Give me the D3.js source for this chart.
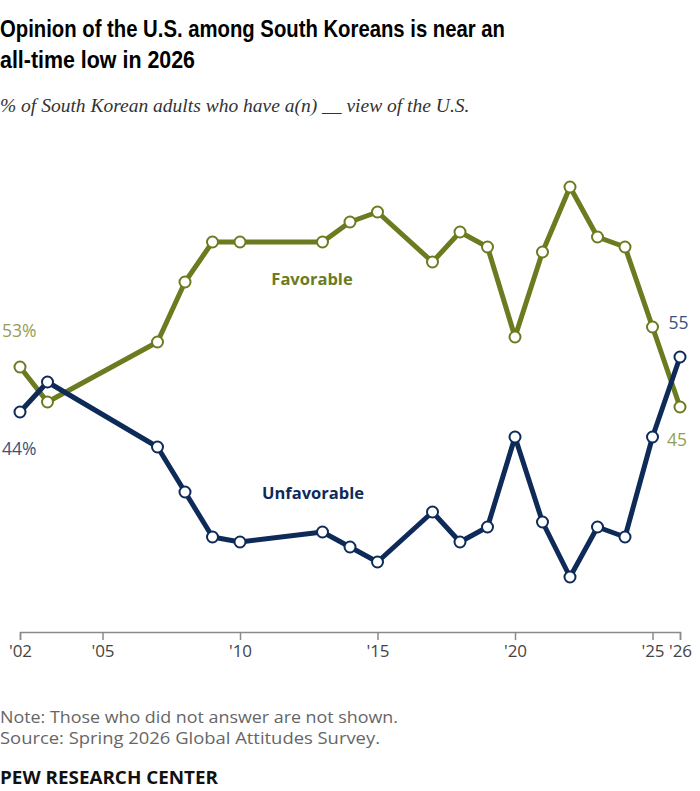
<!DOCTYPE html>
<html lang="en">
<head>
<meta charset="UTF-8">
<title>South Korean views of the U.S.</title>
<script src="https://cdn.jsdelivr.net/npm/d3@7/dist/d3.min.js"></script>
<style>
  body { margin: 0; background: #fff; }
  svg { display: block; }
</style>
</head>
<body>
<div id="chart"></div>
<script>
// survey years and shares (%)
const years = [2002, 2003, 2007, 2008, 2009, 2010, 2013, 2014, 2015, 2017, 2018, 2019, 2020, 2021, 2022, 2023, 2024, 2025, 2026];
const favorable = [53, 46, 58, 70, 78, 78, 78, 82, 84, 74, 80, 77, 59, 76, 89, 79, 77, 61, 45];
const unfavorable = [44, 50, 37, 28, 19, 18, 20, 17, 14, 24, 18, 21, 39, 22, 11, 21, 19, 39, 55];
const tickYears = [2002, 2005, 2010, 2015, 2020, 2025, 2026];
const tickLabels = ["'02", "'05", "'10", "'15", "'20", "'25", "'26"];

const width = 700, height = 791;
const favColor = '#6b7b1f', favLight = '#949e55';
const unfColor = '#0e2a58', unfLight = '#3a5279';
const sans = '"Open Sans", "Liberation Sans", Arial, sans-serif';

const svg = d3.select('#chart').append('svg')
  .attr('width', width)
  .attr('height', height);

// title block (condensed look squeezed to the original widths)
const title = svg.append('text')
  .attr('font-family', '"Liberation Sans", Arial, sans-serif')
  .attr('font-weight', 'bold')
  .attr('font-size', 24)
  .attr('fill', '#000');
title.append('tspan').attr('x', 0).attr('y', 37)
  .attr('textLength', 505).attr('lengthAdjust', 'spacingAndGlyphs')
  .text('Opinion of the U.S. among South Koreans is near an');
title.append('tspan').attr('x', 0).attr('y', 68)
  .attr('textLength', 195).attr('lengthAdjust', 'spacingAndGlyphs')
  .text('all-time low in 2026');

svg.append('text')
  .attr('x', 0).attr('y', 112)
  .attr('font-family', '"Liberation Serif", serif')
  .attr('font-style', 'italic')
  .attr('font-size', 19.5)
  .attr('fill', '#333')
  .text('% of South Korean adults who have a(n) __ view of the U.S.');

// scales
const x = d3.scaleLinear().domain([2002, 2026]).range([20, 680]);
const y = d3.scaleLinear().domain([0, 100]).range([632, 132]);

// x axis
const axis = d3.axisBottom(x)
  .tickValues(tickYears)
  .tickSize(8)
  .tickFormat((d, i) => tickLabels[i]);

const gx = svg.append('g')
  .attr('transform', `translate(0,${y(0)})`)
  .call(axis);
gx.select('.domain').attr('stroke', '#8a8a8a').attr('stroke-width', 1.5);
gx.selectAll('.tick line').attr('stroke', '#8a8a8a').attr('stroke-width', 1.5);
gx.selectAll('.tick text')
  .attr('font-family', sans)
  .attr('font-size', 17)
  .attr('fill', '#444')
  .attr('dy', '0.8em');

const line = d3.line()
  .x(d => x(d[0]))
  .y(d => y(d[1]));

function drawSeries(values, color) {
  const pts = years.map((yr, i) => [yr, values[i]]);
  svg.append('path')
    .datum(pts)
    .attr('fill', 'none')
    .attr('stroke', color)
    .attr('stroke-width', 5)
    .attr('stroke-linejoin', 'round')
    .attr('d', line);
  svg.append('g').selectAll('circle')
    .data(pts)
    .enter().append('circle')
    .attr('cx', d => x(d[0]))
    .attr('cy', d => y(d[1]))
    .attr('r', 5.5)
    .attr('fill', '#fff')
    .attr('stroke', color)
    .attr('stroke-width', 2);
}

drawSeries(favorable, favColor);
drawSeries(unfavorable, unfColor);

// series labels
svg.append('text')
  .attr('x', 312).attr('y', 285)
  .attr('text-anchor', 'middle')
  .attr('font-family', sans)
  .attr('font-weight', 'bold')
  .attr('font-size', 16.5)
  .attr('fill', favColor)
  .text('Favorable');
svg.append('text')
  .attr('x', 313).attr('y', 499)
  .attr('text-anchor', 'middle')
  .attr('font-family', sans)
  .attr('font-weight', 'bold')
  .attr('font-size', 16.5)
  .attr('fill', unfColor)
  .text('Unfavorable');

// end-point value labels
const last = years.length - 1;
const valueLabels = [
  { x: 2, y: y(favorable[0]) - 30, text: favorable[0] + '%', color: favLight },
  { x: 2, y: y(unfavorable[0]) + 43, text: unfavorable[0] + '%', color: unfLight },
  { x: x(2025) + 16, y: y(favorable[last - 1]) + 2, text: unfavorable[last], color: unfLight },
  { x: x(2026) - 13, y: y(unfavorable[last - 1]) + 9, text: favorable[last], color: favLight }
];
svg.append('g').selectAll('text')
  .data(valueLabels)
  .enter().append('text')
  .attr('x', d => d.x)
  .attr('y', d => d.y)
  .attr('font-family', sans)
  .attr('font-size', 17.5)
  .attr('fill', d => d.color)
  .text(d => d.text);

// notes
svg.append('text')
  .attr('x', 0).attr('y', 723)
  .attr('font-family', sans).attr('font-size', 16).attr('fill', '#666')
  .attr('textLength', 398).attr('lengthAdjust', 'spacingAndGlyphs')
  .text('Note: Those who did not answer are not shown.');
svg.append('text')
  .attr('x', 0).attr('y', 744)
  .attr('font-family', sans).attr('font-size', 16).attr('fill', '#666')
  .attr('textLength', 380).attr('lengthAdjust', 'spacingAndGlyphs')
  .text('Source: Spring 2026 Global Attitudes Survey.');
svg.append('text')
  .attr('x', 0).attr('y', 784)
  .attr('font-family', sans).attr('font-weight', 'bold').attr('font-size', 17).attr('fill', '#111')
  .attr('textLength', 218).attr('lengthAdjust', 'spacingAndGlyphs')
  .text('PEW RESEARCH CENTER');
</script>
</body>
</html>
